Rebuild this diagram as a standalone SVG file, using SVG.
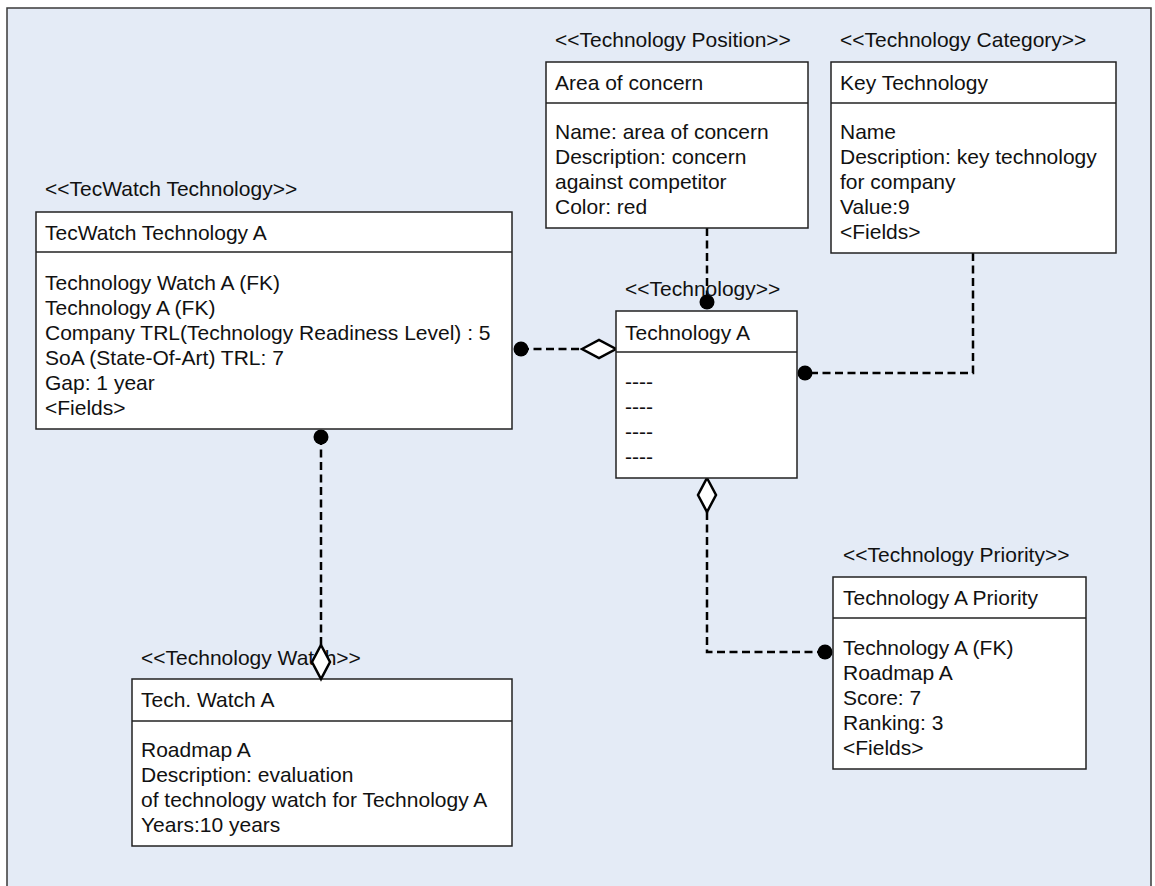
<svg xmlns="http://www.w3.org/2000/svg" width="1155" height="886" viewBox="0 0 1155 886">
  <style>
    .frame { fill: #E4EBF6; stroke: #3a3a3a; stroke-width: 1.5; }
    .box { fill: #ffffff; stroke: #222222; stroke-width: 1.5; }
    .div { stroke: #222222; stroke-width: 1.5; }
    text { font-family: "Liberation Sans", Arial, sans-serif; font-size: 21px; fill: #111111; }
    .conn { fill: none; stroke: #000000; stroke-width: 2.5; stroke-dasharray: 8 4.5; }
    .dot { fill: #000000; }
    .dia { fill: #ffffff; stroke: #000000; stroke-width: 2.5; stroke-linejoin: miter; }
  </style>

  <!-- canvas background -->
  <rect class="frame" x="7" y="8" width="1144" height="900"/>

  <!-- connectors -->
  <g id="connectors">
    <!-- Area of concern -> Technology A -->
    <line class="conn" x1="707" y1="228" x2="707" y2="302"/>
    <circle class="dot" cx="707" cy="302" r="7.5"/>
    <!-- TecWatch Technology A -> Technology A -->
    <line class="conn" x1="521" y1="349" x2="582" y2="349"/>
    <circle class="dot" cx="521" cy="349" r="7.5"/>
    <polygon class="dia" points="582,349 599,340 616,349 599,358"/>
    <!-- Key Technology -> Technology A -->
    <polyline class="conn" points="973,253 973,373 805,373"/>
    <circle class="dot" cx="805" cy="373" r="7.5"/>
    <!-- Technology A -> Technology A Priority -->
    <polyline class="conn" points="707,512 707,652 825,652"/>
    <polygon class="dia" points="707,478 716,495 707,512 698,495"/>
    <circle class="dot" cx="825" cy="652" r="7.5"/>
    <!-- TecWatch Technology A -> Tech. Watch A -->
    <line class="conn" x1="321" y1="437" x2="321" y2="645"/>
    <circle class="dot" cx="321" cy="437" r="7.5"/>
  </g>

  <!-- TecWatch Technology A -->
  <g id="tecwatch-technology">
    <text x="45" y="196">&lt;&lt;TecWatch Technology&gt;&gt;</text>
    <rect class="box" x="36" y="212" width="476" height="217"/>
    <line class="div" x1="36" y1="252" x2="512" y2="252"/>
    <text x="45" y="240">TecWatch Technology A</text>
    <text x="45" y="290">Technology Watch A (FK)</text>
    <text x="45" y="315">Technology A (FK)</text>
    <text x="45" y="340">Company TRL(Technology Readiness Level) : 5</text>
    <text x="45" y="365">SoA (State-Of-Art) TRL: 7</text>
    <text x="45" y="390">Gap: 1 year</text>
    <text x="45" y="415">&lt;Fields&gt;</text>
  </g>

  <!-- Area of concern -->
  <g id="technology-position">
    <text x="555" y="47">&lt;&lt;Technology Position&gt;&gt;</text>
    <rect class="box" x="546" y="62" width="262" height="166"/>
    <line class="div" x1="546" y1="103" x2="808" y2="103"/>
    <text x="555" y="90">Area of concern</text>
    <text x="555" y="139">Name: area of concern</text>
    <text x="555" y="164">Description: concern</text>
    <text x="555" y="189">against competitor</text>
    <text x="555" y="214">Color: red</text>
  </g>

  <!-- Key Technology -->
  <g id="technology-category">
    <text x="840" y="47">&lt;&lt;Technology Category&gt;&gt;</text>
    <rect class="box" x="831" y="62" width="285" height="191"/>
    <line class="div" x1="831" y1="103" x2="1116" y2="103"/>
    <text x="840" y="90">Key Technology</text>
    <text x="840" y="139">Name</text>
    <text x="840" y="164">Description: key technology</text>
    <text x="840" y="189">for company</text>
    <text x="840" y="214">Value:9</text>
    <text x="840" y="239">&lt;Fields&gt;</text>
  </g>

  <!-- Technology A -->
  <g id="technology">
    <text x="625" y="296">&lt;&lt;Technology&gt;&gt;</text>
    <rect class="box" x="616" y="311" width="181" height="167"/>
    <line class="div" x1="616" y1="352" x2="797" y2="352"/>
    <text x="625" y="340">Technology A</text>
    <text x="625" y="389">----</text>
    <text x="625" y="414">----</text>
    <text x="625" y="439">----</text>
    <text x="625" y="464">----</text>
  </g>

  <!-- Technology A Priority -->
  <g id="technology-priority">
    <text x="843" y="562">&lt;&lt;Technology Priority&gt;&gt;</text>
    <rect class="box" x="833" y="577" width="253" height="192"/>
    <line class="div" x1="833" y1="618" x2="1086" y2="618"/>
    <text x="843" y="605">Technology A Priority</text>
    <text x="843" y="655">Technology A (FK)</text>
    <text x="843" y="680">Roadmap A</text>
    <text x="843" y="705">Score: 7</text>
    <text x="843" y="730">Ranking: 3</text>
    <text x="843" y="755">&lt;Fields&gt;</text>
  </g>

  <!-- Tech. Watch A -->
  <g id="technology-watch">
    <text x="141" y="665">&lt;&lt;Technology Watch&gt;&gt;</text>
    <rect class="box" x="132" y="679" width="380" height="167"/>
    <line class="div" x1="132" y1="721" x2="512" y2="721"/>
    <text x="141" y="707">Tech. Watch A</text>
    <text x="141" y="757">Roadmap A</text>
    <text x="141" y="782">Description: evaluation</text>
    <text x="141" y="807">of technology watch for Technology A</text>
    <text x="141" y="832">Years:10 years</text>
  </g>

  <!-- diamond drawn over the stereotype label -->
  <polygon class="dia" points="321,645 330,662 321,679 312,662"/>
</svg>
